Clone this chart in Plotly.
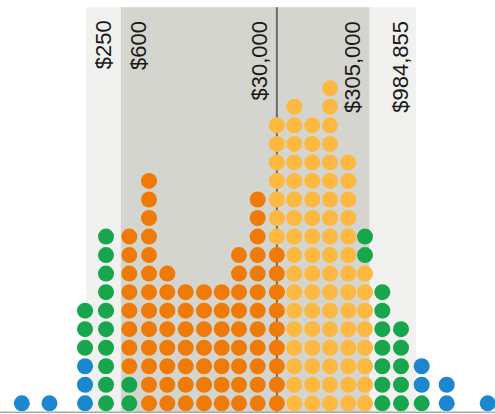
import numpy as np
import plotly.graph_objects as go

# Column (bin) centre values in dollars
bin_values = [50, 100, 244, 413, 741, 1214, 1921, 3048, 4823, 7518, 11605, 18548,
              30000, 46450, 72950, 113700, 179960, 273600, 422300, 675000,
              1134000, 2124000, 5939000]

# Counts per band, stacked bottom-up in this order
under_250      = [1, 1, 3, 0, 0, 0, 0, 0, 0, 0, 0, 0, 0, 0, 0, 0, 0, 0, 0, 0, 0, 0, 0]
from_250_600   = [0, 0, 3, 10, 2, 0, 0, 0, 0, 0, 0, 0, 0, 0, 0, 0, 0, 0, 0, 0, 0, 0, 0]
from_600_30k   = [0, 0, 0, 0, 8, 13, 8, 7, 7, 7, 9, 12, 9, 0, 0, 0, 0, 0, 0, 0, 0, 0, 0]
from_30k_305k  = [0, 0, 0, 0, 0, 0, 0, 0, 0, 0, 0, 0, 7, 17, 16, 18, 14, 8, 0, 0, 0, 0, 0]
from_305k_985k = [0, 0, 0, 0, 0, 0, 0, 0, 0, 0, 0, 0, 0, 0, 0, 0, 0, 2, 7, 5, 1, 0, 0]
over_985k      = [0, 0, 0, 0, 0, 0, 0, 0, 0, 0, 0, 0, 0, 0, 0, 0, 0, 0, 0, 0, 2, 2, 1]

series = [under_250, from_250_600, from_600_30k, from_30k_305k, from_305k_985k, over_985k]
series_colors = ["#1a87cf", "#17a64b", "#ef7b06", "#fdb83f", "#17a64b", "#1a87cf"]

thresholds = [250, 600, 30000, 305000, 984855]
threshold_labels = ["$250", "$600", "$30,000", "$305,000", "$984,855"]

fig = go.Figure()

height_so_far = [0] * len(bin_values)
for counts, color in zip(series, series_colors):
    xs, ys = [], []
    for i, c in enumerate(counts):
        for k in range(c):
            xs.append(bin_values[i])
            ys.append(height_so_far[i] + k)
        height_so_far[i] += c
    fig.add_trace(go.Scatter(x=xs, y=ys, mode="markers",
                             marker=dict(size=16, color=color, line=dict(width=0)),
                             hoverinfo="skip", showlegend=False))

band_bottom = 0.004
band_top = 0.9824
shapes = [
    dict(type="rect", xref="x", yref="paper", x0=thresholds[0], x1=thresholds[4],
         y0=band_bottom, y1=band_top, fillcolor="#f1f1ef", line=dict(width=0), layer="below"),
    dict(type="rect", xref="x", yref="paper", x0=thresholds[1], x1=thresholds[3],
         y0=band_bottom, y1=band_top, fillcolor="#d5d5d0", line=dict(width=0), layer="below"),
    dict(type="line", xref="x", yref="paper", x0=thresholds[2], x1=thresholds[2],
         y0=band_bottom, y1=band_top, line=dict(color="#6a6a6a", width=2), layer="below"),
    dict(type="line", xref="paper", yref="paper", x0=0, x1=1,
         y0=band_bottom, y1=band_bottom, line=dict(color="#a8a8a8", width=1.5), layer="above"),
]
fig.update_layout(shapes=shapes)

shifts = [17, 17, -17, -17, -15]
for t, lab, s in zip(thresholds, threshold_labels, shifts):
    fig.add_annotation(x=np.log10(t), xref="x", y=0.955, yref="paper",
                       text=lab, textangle=-90, showarrow=False,
                       xanchor="center", yanchor="top", xshift=s,
                       font=dict(family="Liberation Sans, Arial, sans-serif", size=22, color="#1a1a1a"))

fig.update_layout(
    width=495, height=414,
    margin=dict(l=0, r=0, t=0, b=0),
    paper_bgcolor="white", plot_bgcolor="white",
    xaxis=dict(type="log", range=[1.4611, 6.8532], visible=False, fixedrange=True),
    yaxis=dict(range=[-0.577, 21.765], visible=False, fixedrange=True),
)

fig.write_html("out.html", config={"displayModeBar": False, "staticPlot": True},
               post_script="document.body.style.margin='0';document.body.style.overflow='hidden';")
